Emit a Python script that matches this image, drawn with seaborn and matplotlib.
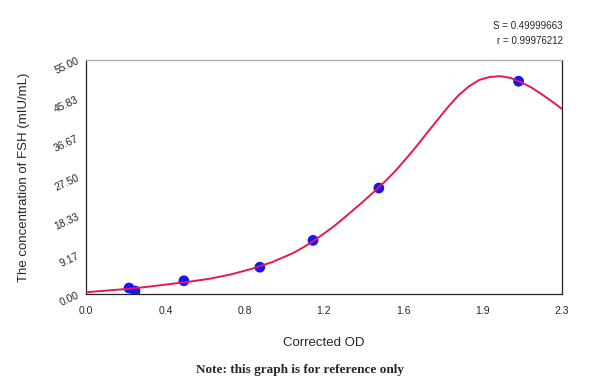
import pandas as pd
import matplotlib
matplotlib.use("Agg")
import matplotlib.pyplot as plt
from matplotlib.ticker import AutoMinorLocator
import seaborn as sns

# standard points
od = [0.208, 0.237, 0.473, 0.840, 1.097, 1.415, 2.090]
fsh = [1.4, 0.7, 3.1, 6.3, 12.6, 24.9, 50.0]

# fitted curve
curve_od = [0.0, 0.1, 0.2, 0.3, 0.4, 0.5, 0.6, 0.7, 0.8, 0.9, 1.0,
            1.05, 1.1, 1.15, 1.2, 1.25, 1.3, 1.35, 1.4, 1.45, 1.5,
            1.55, 1.6, 1.65, 1.7, 1.75, 1.8, 1.85, 1.9, 1.95, 2.0,
            2.05, 2.1, 2.15, 2.2, 2.25, 2.3]
curve_fsh = [0.4, 0.8, 1.2, 1.7, 2.3, 2.9, 3.6, 4.6, 5.9, 7.5, 9.6,
             10.95, 12.5, 14.2, 16.0, 18.0, 20.1, 22.2, 24.4, 26.7, 29.2,
             32.0, 34.9, 38.0, 41.0, 44.0, 46.7, 48.8, 50.3, 51.0, 51.2,
             50.8, 49.8, 48.6, 47.0, 45.3, 43.5]

x_ticks = [0.0, 0.3833, 0.7667, 1.15, 1.5333, 1.9167, 2.3]
x_labels = ["0.0", "0.4", "0.8", "1.2", "1.6", "1.9", "2.3"]
y_ticks = [0.0, 9.1667, 18.333, 27.5, 36.667, 45.833, 55.0]
y_labels = ["0.00", "9.17", "18.33", "27.50", "36.67", "45.83", "55.00"]

s_value = "S = 0.49999663"
r_value = "r = 0.99976212"

sns.set_style("white")
plt.rcParams["font.family"] = ["Liberation Sans", "DejaVu Sans"]

points = pd.DataFrame({"od": od, "fsh": fsh})
curve = pd.DataFrame({"od": curve_od, "fsh": curve_fsh})

fig = plt.figure(figsize=(6, 3.82), dpi=100)
ax = fig.add_axes([0.1433, 0.2304, 0.7934, 0.6126])

# points first, fitted curve on top
sns.scatterplot(data=points, x="od", y="fsh", ax=ax, color="#1414ff",
                s=60, edgecolor="none", zorder=2)
sns.lineplot(data=curve, x="od", y="fsh", ax=ax, color="#e8174f",
             lw=1.4, zorder=3)
ax.set_xlim(0, 2.3)
ax.set_ylim(0, 55)

ax.set_xticks(x_ticks)
ax.set_xticklabels(x_labels)
ax.set_yticks(y_ticks)
ax.set_yticklabels(y_labels, rotation=25)
ax.xaxis.set_minor_locator(AutoMinorLocator(4))
ax.yaxis.set_minor_locator(AutoMinorLocator(4))
ax.tick_params(which="major", direction="in", length=4, width=0.8,
               labelsize=7.5, color="#333333", top=False, right=False)
ax.tick_params(which="minor", direction="in", length=2.5, width=0.6,
               color="#333333", top=False, right=False)
ax.tick_params(axis="x", pad=9)
ax.tick_params(axis="y", pad=4)

for side in ["left", "bottom", "right"]:
    ax.spines[side].set_color("#222222")
    ax.spines[side].set_linewidth(0.9)
ax.spines["top"].set_color("#aaaaaa")
ax.spines["top"].set_linewidth(0.9)

ax.set_xlabel("Corrected OD", fontsize=9.5, labelpad=15)
ax.set_ylabel("The concentration of FSH (mIU/mL)", fontsize=9.5, labelpad=16)

fig.text(0.938, 0.932, s_value, ha="right", va="center", fontsize=7)
fig.text(0.938, 0.893, r_value, ha="right", va="center", fontsize=7)
fig.text(0.5, 0.031, "Note: this graph is for reference only", ha="center",
         va="center", fontsize=9.5, fontweight="bold",
         family=["Liberation Serif", "DejaVu Serif"])

fig.savefig("out.png", dpi=100)
